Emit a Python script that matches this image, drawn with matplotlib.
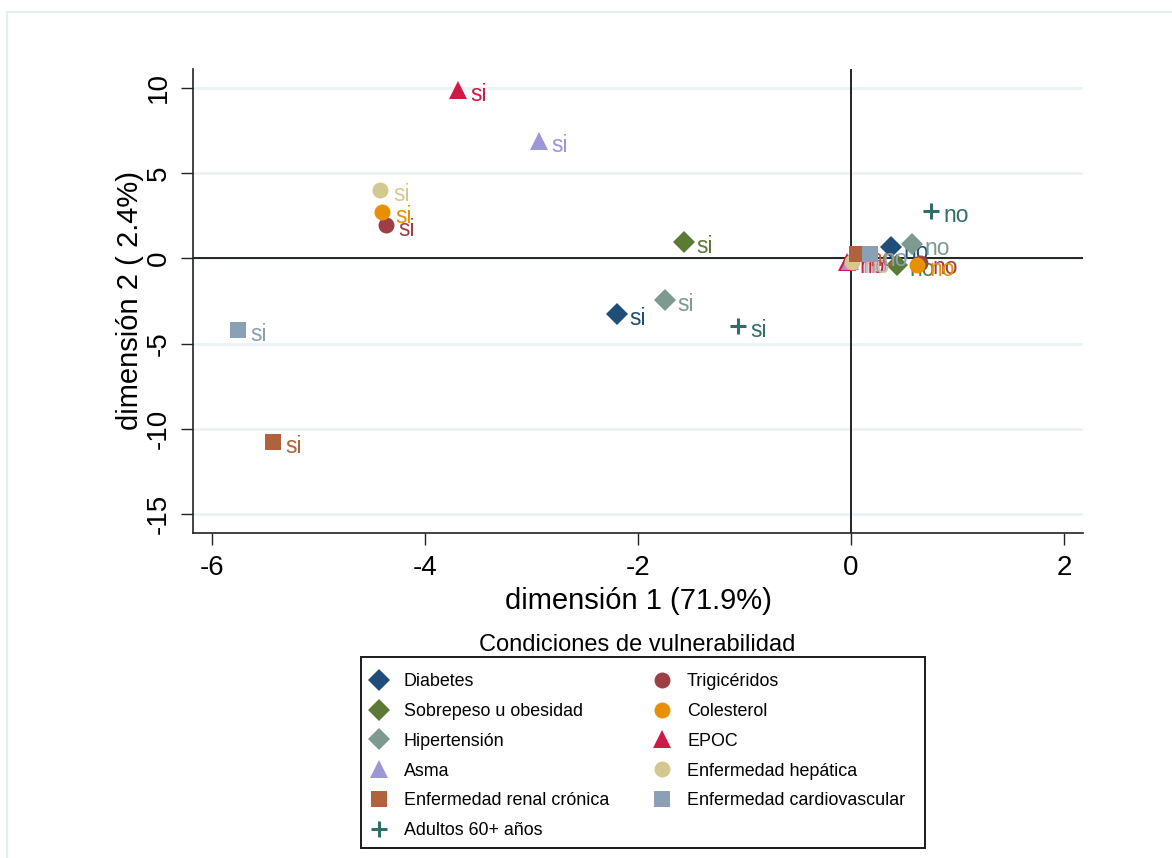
import matplotlib.pyplot as plt
from matplotlib.lines import Line2D
from matplotlib.patches import Rectangle

plt.rcParams['font.family'] = ['Liberation Sans', 'DejaVu Sans']
plt.rcParams['axes.unicode_minus'] = False

# plotting order (as in the original, legend row by row)
names = ['Diabetes', 'Trigicéridos', 'Sobrepeso u obesidad', 'Colesterol',
         'Hipertensión', 'EPOC', 'Asma', 'Enfermedad hepática',
         'Enfermedad renal crónica', 'Enfermedad cardiovascular',
         'Adultos 60+ años']

si_x = [-2.20, -4.37, -1.57, -4.40, -1.75, -3.69, -2.93, -4.42, -5.43, -5.76, -1.06]
si_y = [-3.26, 1.96, 0.96, 2.72, -2.44, 9.88, 6.89, 4.01, -10.77, -4.20, -3.97]
no_x = [0.38, 0.65, 0.43, 0.62, 0.57, -0.04, -0.01, 0.01, 0.06, 0.18, 0.75]
no_y = [0.65, -0.27, -0.39, -0.39, 0.85, -0.20, -0.18, -0.19, 0.24, 0.24, 2.80]
cat_labels = ['si', 'no']

xticks = [-6, -4, -2, 0, 2]
yticks = [-15, -10, -5, 0, 5, 10]

colors = ['#1f4e79', '#9c4046', '#5b7a35', '#e89000', '#7d9a8f', '#cf1a45',
          '#9c98d8', '#d3c98f', '#b0623c', '#8aa0b4', '#2f6f68']
markers = ['D', 'o', 'D', 'o', 'D', '^', '^', 'o', 's', 's', '+']
msizes = {'D': 11.5, 'o': 11.5, '^': 12.5, 's': 11.5, '+': 11}

fig = plt.figure(figsize=(11.72, 8.58), dpi=100)
ax = fig.add_axes([193 / 1172, 1 - 533 / 858, 890 / 1172, 464 / 858])

handles = {}
for i, name in enumerate(names):
    m = markers[i]
    h, = ax.plot([si_x[i], no_x[i]], [si_y[i], no_y[i]], linestyle='none',
                 marker=m, ms=msizes[m], color=colors[i],
                 mew=2.2 if m == '+' else 0, zorder=3 + i, label=name,
                 clip_on=False)
    handles[name] = h
    for x, y, t in zip([si_x[i], no_x[i]], [si_y[i], no_y[i]], cat_labels):
        ax.annotate(t, (x, y), xytext=(9, -3.5), textcoords='offset points',
                    ha='left', va='center', fontsize=16.5, color=colors[i],
                    zorder=3 + i)

ax.set_xlim(-6.18, 2.18)
ax.set_ylim(-16.11, 11.11)
ax.set_xticks(xticks)
ax.set_yticks(yticks)
ax.grid(axis='y', color='#eaf2f3', lw=1.9, zorder=0)
ax.axhline(0, color='black', lw=1.2, zorder=2)
ax.axvline(0, color='black', lw=1.2, zorder=2)

for s in ['top', 'right']:
    ax.spines[s].set_visible(False)
for s in ['left', 'bottom']:
    ax.spines[s].set_linewidth(1.2)
    ax.spines[s].set_color('#222222')
ax.tick_params(length=8.5, width=1.0, labelsize=20, pad=7, color='#222222')
plt.setp(ax.get_yticklabels(), rotation=90, va='center')

ax.set_xlabel('dimensión 1 (71.9%)', fontsize=21, labelpad=5)
ax.set_ylabel('dimensión 2 ( 2.4%)', fontsize=21, labelpad=1)

fig.text(637 / 1172, 1 - 645 / 858, 'Condiciones de vulnerabilidad',
         ha='center', va='center', fontsize=17)

leg_order = ['Diabetes', 'Sobrepeso u obesidad', 'Hipertensión', 'Asma',
             'Enfermedad renal crónica', 'Adultos 60+ años', 'Trigicéridos',
             'Colesterol', 'EPOC', 'Enfermedad hepática',
             'Enfermedad cardiovascular']
leg = fig.legend([handles[n] for n in leg_order], leg_order, ncol=2,
                 loc='upper left',
                 bbox_to_anchor=(361 / 1172, 1 - 665 / 858),
                 fontsize=12.9, frameon=False, labelspacing=0.72,
                 handlelength=1.16, handletextpad=0.8, borderpad=0.44,
                 borderaxespad=0, columnspacing=2.38, markerscale=1.0)

# legend box drawn separately so its size matches the original
fig.add_artist(Rectangle((361 / 1172, 1 - 848 / 858), 564 / 1172, 191 / 858,
                         transform=fig.transFigure, fill=False,
                         edgecolor='#1a1a1a', lw=1.4))

# light outer frame of the graph region
fig.add_artist(Line2D([7 / 1172, 1], [1 - 12 / 858] * 2, color='#e6efee', lw=1.6))
fig.add_artist(Line2D([7 / 1172] * 2, [0, 1 - 12 / 858], color='#e6efee', lw=1.6))

fig.savefig('out.png', dpi=100)
